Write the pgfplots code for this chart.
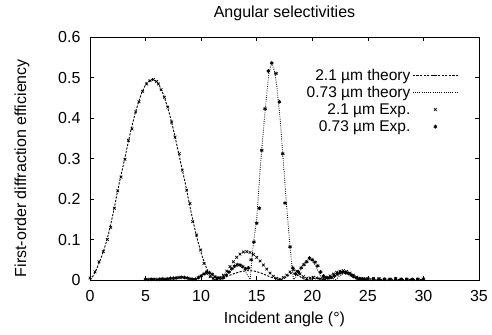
\documentclass[border=0pt]{standalone}
\usepackage{pgfplots}
\pgfplotsset{compat=1.18}
\usepackage{fontspec}
\setmainfont{Liberation Sans}
\newcommand{\ff}{\fontsize{16bp}{17bp}\selectfont}
\newcommand{\lf}{\fontsize{15.5bp}{16bp}\selectfont}
\begin{document}
\begin{tikzpicture}
\path[use as bounding box] (-90bp,-55bp) rectangle (402bp,280bp);
\begin{axis}[
  at={(0,0)}, anchor=south west,
  scale only axis, width=389bp, height=243bp,
  xmin=0, xmax=35, ymin=0, ymax=0.6,
  xtick={0,5,...,35}, ytick={0,0.1,...,0.6},
  yticklabels={0,0.1,0.2,0.3,0.4,0.5,0.6},
  tick align=inside, major tick length=4bp,
  axis line style={line width=0.7pt},
  tick style={line width=0.6pt, black},
  /pgf/number format/assume math mode=true,
  tick label style={font=\ff},
  xticklabel style={yshift=-7bp},
  yticklabel style={xshift=-6bp},
  title={Angular selectivities},
  title style={font=\ff, at={(axis description cs:0.5,1)}, anchor=base, yshift=14bp},
  xlabel={Incident angle (°)},
  xlabel style={font=\ff, at={(axis description cs:0.5,0)}, anchor=base, yshift=-43bp},
  ylabel={First-order diffraction efficiency},
  ylabel style={font=\ff, at={(axis description cs:-0.175,0.46)}, anchor=center},
  legend style={draw=none, fill=none, font=\lf, at={(0.955,0.885)}, anchor=north east,
    cells={anchor=east, text height=11bp, text depth=3.5bp, inner ysep=0.3bp}, row sep=0.6bp},
  legend plot pos=right,
  legend image code/.code={\draw[mark repeat=2,mark phase=2,#1] plot coordinates {(0bp,0bp) (22.5bp,0bp) (45bp,0bp)};},
  clip=true,
]
% 2.1 um theory
\addplot[black, line width=0.9pt, dash pattern=on 2.2pt off 1.4pt, smooth, tension=0.4] coordinates {
(0,0) (0.3,0.011) (0.6,0.028) (1.1,0.062) (1.6,0.107) (2.1,0.167) (2.6,0.235) (3.1,0.297) (3.6,0.36) (4.1,0.415) (4.6,0.458) (5.1,0.487) (5.6,0.495) (6.1,0.487) (6.6,0.458) (7.1,0.415) (7.6,0.36) (8.1,0.297) (8.6,0.235) (9.1,0.167) (9.6,0.107) (10.1,0.058) (10.6,0.022) (10.9,0.008) (11.2,0.001)
(11.8,0.004) (12.4,0.010) (13.0,0.016) (13.6,0.021) (14.2,0.023) (14.8,0.022) (15.4,0.017) (16.0,0.010) (16.6,0.004) (17.2,0.001)
(17.7,0.008) (18.2,0.018) (18.7,0.012) (19.2,0.003) (19.6,0.001) (20.2,0.004) (20.8,0.003) (21.3,0.001)
(21.8,0.010) (22.3,0.019) (22.8,0.022) (23.3,0.017) (23.8,0.008) (24.3,0.001) (25.0,0.003) (25.6,0.002) (26.2,0.001) (27.0,0.002) (28.0,0.001) (29.0,0.001) (30.0,0.001)
};
\addlegendentry{2.1 µm theory}
% 0.73 um theory
\addplot[black, line width=0.9pt, dash pattern=on 0.8pt off 1.4pt] coordinates {
(5.0,0.001) (5.5,0.002) (6.0,0.001) (6.5,0.003) (7.0,0.002) (7.5,0.004) (8.0,0.006) (8.5,0.007) (9.0,0.004) (9.4,0.001) (9.8,0.006) (10.2,0.014) (10.6,0.019) (11.0,0.013) (11.4,0.004) (11.8,0.001) (12.2,0.006) (12.6,0.020) (13.0,0.032) (13.4,0.036) (13.8,0.030) (14.1,0.015) (14.4,0.001)
(14.7,0.090) (15.0,0.150) (15.3,0.270) (15.6,0.370) (15.9,0.460) (16.1,0.510) (16.35,0.536) (16.6,0.515) (16.8,0.480) (17.1,0.400) (17.4,0.290) (17.7,0.180) (18.0,0.080) (18.3,0.001)
(18.7,0.012) (19.1,0.035) (19.5,0.050) (19.9,0.050) (20.3,0.035) (20.7,0.012) (21.0,0.001) (21.4,0.005) (21.8,0.004) (22.1,0.001) (22.5,0.010) (22.9,0.018) (23.3,0.015) (23.7,0.006) (24.1,0.001) (24.6,0.003) (25.1,0.002) (25.6,0.001) (26.5,0.002) (27.5,0.001) (28.5,0.001) (29.5,0.001) (30.0,0.001)
};
\addlegendentry{0.73 µm theory}
% 2.1 um experiment
\addplot[black, only marks, mark=x, mark size=1.9pt, mark options={line width=0.7pt}] coordinates {
(0,0.005) (0.45,0.02) (0.81,0.045) (1.2,0.07) (1.56,0.10) (1.86,0.13) (2.19,0.177) (2.49,0.22) (2.79,0.254) (3.15,0.298) (3.45,0.345) (3.78,0.373) (4.11,0.415) (4.41,0.44) (4.74,0.466) (5.1,0.484) (5.4,0.492) (5.7,0.495) (6.0,0.49) (6.15,0.484) (6.4,0.47) (6.69,0.451) (7.0,0.427) (7.35,0.39) (7.65,0.353) (8.04,0.312) (8.3,0.271) (8.7,0.222) (9.0,0.189) (9.24,0.144) (9.6,0.111) (9.96,0.074) (10.26,0.041) (10.5,0.016) (10.8,0.008) (11.1,0.004) (11.4,0.003) (11.7,0.006)
(12.0,0.012) (12.3,0.022) (12.6,0.033) (12.9,0.045) (13.2,0.056) (13.5,0.064) (13.8,0.069) (14.1,0.070) (14.4,0.068) (14.7,0.063) (15.0,0.056) (15.3,0.047) (15.6,0.037) (15.9,0.027) (16.2,0.017) (16.5,0.009) (16.8,0.004) (17.1,0.002) (17.4,0.006) (17.7,0.012) (18.0,0.020) (18.3,0.025) (18.6,0.022) (18.9,0.015) (19.2,0.008) (19.5,0.004) (19.8,0.005) (20.1,0.007) (20.4,0.005) (20.7,0.003) (21.0,0.003) (21.3,0.006) (21.6,0.010) (21.9,0.015) (22.2,0.019) (22.5,0.022) (22.8,0.023) (23.1,0.021) (23.4,0.017) (23.7,0.012) (24.0,0.007) (24.3,0.004) (24.6,0.003) (25.0,0.003) (25.5,0.004) (26.0,0.003) (26.5,0.002) (27.0,0.002) (27.5,0.003) (28.0,0.002) (28.5,0.002) (29.0,0.001) (29.5,0.002)
};
\addlegendentry{2.1 µm Exp.}
% 0.73 um experiment
\addplot[black, only marks, mark=asterisk, mark size=1.9pt, mark options={line width=0.8pt}] coordinates {
(5.0,0.002) (5.25,0.001) (5.5,0.002) (5.75,0.002) (6.0,0.001) (6.25,0.002) (6.5,0.003) (6.75,0.002) (7.0,0.003) (7.25,0.004) (7.5,0.004) (7.75,0.005) (8.0,0.006) (8.25,0.007) (8.5,0.006) (8.75,0.005) (9.0,0.003) (9.25,0.002) (9.5,0.002) (9.75,0.006) (10.0,0.010) (10.25,0.015) (10.5,0.020) (10.75,0.018) (11.0,0.014) (11.25,0.008) (11.5,0.005) (11.75,0.004) (12.0,0.006) (12.25,0.012) (12.5,0.020) (12.75,0.028) (13.0,0.034) (13.25,0.038) (13.5,0.037) (13.75,0.033) (14.0,0.028) (14.25,0.030) (14.5,0.050) (14.75,0.094) (15.0,0.140) (15.24,0.177) (15.45,0.320) (15.75,0.423) (16.05,0.516) (16.35,0.536) (16.74,0.510) (17.04,0.440) (17.34,0.312) (17.55,0.190) (18.0,0.082) (18.25,0.030) (18.5,0.015) (18.75,0.020) (19.0,0.030) (19.25,0.038) (19.5,0.045) (19.75,0.054) (20.0,0.050) (20.25,0.044) (20.5,0.035) (20.75,0.020) (21.0,0.010) (21.25,0.006) (21.5,0.005) (21.75,0.006) (22.0,0.010) (22.25,0.014) (22.5,0.017) (22.75,0.019) (23.0,0.018) (23.25,0.016) (23.5,0.012) (23.75,0.008) (24.0,0.005) (24.25,0.003) (24.5,0.003) (24.75,0.002) (25.0,0.003) (25.5,0.002) (26.0,0.003) (26.5,0.002) (27.0,0.002) (27.5,0.003) (28.0,0.002) (28.5,0.002) (29.0,0.002) (29.5,0.002) (30.0,0.003)
};
\addlegendentry{0.73 µm Exp.}
\end{axis}
\end{tikzpicture}
\end{document}
